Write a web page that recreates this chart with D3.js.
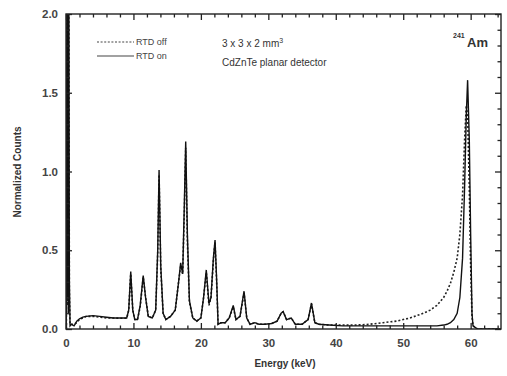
<!DOCTYPE html>
<html>
<head>
<meta charset="utf-8">
<script src="https://cdn.jsdelivr.net/npm/d3@7"></script>
<style>
  body { margin: 0; background: #fff; }
  svg text { font-family: "Liberation Sans", Arial, sans-serif; }
</style>
</head>
<body>
<script>
    var w = 507; //canvas width
    var h = 376; //canvas height

    // energies (keV) shared by both spectra
    var energy = [0.05, 0.12, 0.2, 0.27, 0.34, 0.42, 0.5, 0.6, 0.8, 1.2, 1.6, 2.0, 2.5, 3.0, 4.0, 5.0, 6.0, 7.0, 8.0, 9.0,
                  9.3, 9.6, 9.9, 10.2, 10.6, 11.0, 11.45, 11.8, 12.2, 12.8, 13.3, 13.6, 13.8, 14.05, 14.4, 14.8,
                  15.5, 16.2, 16.7, 17.0, 17.3, 17.55, 17.75, 18.0, 18.3, 18.8, 19.4, 20.0, 20.4, 20.8, 21.2,
                  21.5, 21.85, 22.1, 22.35, 22.55, 23.0, 23.6, 24.2, 24.8, 25.2, 25.8, 26.4, 26.8, 27.3, 28.0,
                  28.6, 29.5, 30.5, 31.3, 31.9, 32.2, 32.7, 33.4, 34.0, 35.0, 35.9, 36.4, 36.9, 37.5, 39.0,
                  41.0, 43.0, 45.0, 47.0, 49.0, 50.0, 51.0, 52.0, 53.0, 54.0, 55.0, 56.0, 56.5, 57.0, 57.5,
                  58.0, 58.4, 58.8, 59.1, 59.35, 59.55, 59.8, 60.0, 60.2, 60.35, 61.0, 64.5];

    // RTD on (solid)
    var rtdOn = [0.0, 2.0, 0.2, 2.0, 0.1, 2.0, 0.3, 0.02, 0.03, 0.02, 0.05, 0.065, 0.075, 0.08, 0.085, 0.08, 0.075, 0.07, 0.07, 0.07,
                 0.12, 0.365, 0.12, 0.06, 0.06, 0.15, 0.34, 0.2, 0.08, 0.07, 0.12, 0.5, 1.01, 0.4, 0.1, 0.06,
                 0.08, 0.12, 0.3, 0.42, 0.35, 0.8, 1.19, 0.6, 0.18, 0.07, 0.05, 0.07, 0.2, 0.375, 0.16,
                 0.2, 0.45, 0.565, 0.3, 0.03, 0.04, 0.04, 0.07, 0.15, 0.06, 0.08, 0.24, 0.07, 0.03, 0.04,
                 0.03, 0.03, 0.035, 0.05, 0.1, 0.11, 0.06, 0.07, 0.03, 0.03, 0.06, 0.165, 0.04, 0.03, 0.025,
                 0.02, 0.02, 0.02, 0.02, 0.02, 0.02, 0.02, 0.02, 0.02, 0.02, 0.02, 0.025, 0.03, 0.04, 0.06,
                 0.1, 0.2, 0.45, 0.9, 1.35, 1.58, 1.2, 0.6, 0.1, 0.02, 0.0, 0.0];

    // RTD off (dotted)
    var rtdOff = [0.0, 2.0, 0.15, 2.0, 0.2, 2.0, 0.25, 0.03, 0.03, 0.03, 0.04, 0.06, 0.07, 0.08, 0.08, 0.075, 0.07, 0.07, 0.068, 0.068,
                  0.12, 0.35, 0.12, 0.06, 0.06, 0.14, 0.33, 0.2, 0.08, 0.07, 0.12, 0.48, 0.98, 0.38, 0.1, 0.06,
                  0.08, 0.12, 0.3, 0.40, 0.35, 0.75, 1.15, 0.55, 0.17, 0.07, 0.05, 0.07, 0.2, 0.36, 0.15,
                  0.2, 0.43, 0.55, 0.28, 0.03, 0.04, 0.04, 0.07, 0.14, 0.06, 0.08, 0.23, 0.07, 0.03, 0.04,
                  0.03, 0.03, 0.035, 0.05, 0.1, 0.11, 0.06, 0.07, 0.03, 0.03, 0.06, 0.16, 0.04, 0.03, 0.025,
                  0.025, 0.025, 0.03, 0.04, 0.05, 0.06, 0.07, 0.085, 0.1, 0.12, 0.15, 0.2, 0.24, 0.29, 0.36,
                  0.45, 0.6, 0.85, 1.2, 1.42, 1.35, 0.9, 0.4, 0.08, 0.02, 0.0, 0.0];

    var xMajor = [0, 10, 20, 30, 40, 50, 60]; //x tick labels
    var yMajor = [0.0, 0.5, 1.0, 1.5, 2.0];  //y tick labels

    var padLeft = 66, padRight = 501, padTop = 14, padBottom = 329; //plot frame edges

    var xScale = d3.scaleLinear().domain([0, 64.5]).range([padLeft, padRight]);
    var yScale = d3.scaleLinear().domain([0, 2]).range([padBottom, padTop]);

    var svg = d3.select("body").append("svg")
        .attr("width", w)
        .attr("height", h);

    // clip the spectra to the frame
    svg.append("clipPath").attr("id", "plotclip")
        .append("rect")
        .attr("x", padLeft).attr("y", padTop)
        .attr("width", padRight - padLeft).attr("height", padBottom - padTop);

    var spectrumLine = d3.line()
        .x(function(d) { return xScale(d[0]); })
        .y(function(d) { return yScale(d[1]); });

    var offData = energy.map(function(e, i) { return [e, rtdOff[i]]; });
    var onData = energy.map(function(e, i) { return [e, rtdOn[i]]; });

    var plot = svg.append("g").attr("clip-path", "url(#plotclip)");

    plot.append("path")
        .datum(offData)
        .attr("fill", "none")
        .attr("stroke", "#222")
        .attr("stroke-width", 1.6)
        .attr("stroke-dasharray", "2,2")
        .attr("d", spectrumLine);

    plot.append("path")
        .datum(onData)
        .attr("fill", "none")
        .attr("stroke", "#111")
        .attr("stroke-width", 1.4)
        .attr("d", spectrumLine);

    // all tick positions (major + minor)
    var xTicks = d3.range(0, 65, 2);
    var yTicks = d3.range(0, 21).map(function(i) { return i / 10; });
    function isMajorX(d) { return d % 10 === 0; }
    function isMajorY(d) { return Math.abs(d * 2 - Math.round(d * 2)) < 1e-6; }

    // draw one side of the frame; sign flips tick direction into the plot
    function drawAxis(axis, translate, attrName, sign, isMajor) {
        var g = svg.append("g")
            .attr("transform", translate)
            .call(axis);
        g.select(".domain").remove();
        g.selectAll(".tick line")
            .attr("stroke", "#222")
            .attr("stroke-width", 1.3)
            .attr(attrName, function(d) { return sign * (isMajor(d) ? 6 : 3.5); });
        g.selectAll(".tick text")
            .attr("fill", "#444")
            .style("font-size", "11.5px")
            .style("font-weight", "bold");
    }

    drawAxis(d3.axisBottom(xScale).tickValues(xTicks).tickSize(-6).tickPadding(10)
                .tickFormat(function(d) { return isMajorX(d) ? d : ""; }),
             "translate(0," + padBottom + ")", "y2", -1, isMajorX);
    drawAxis(d3.axisTop(xScale).tickValues(xTicks).tickSize(-6).tickFormat(""),
             "translate(0," + padTop + ")", "y2", 1, isMajorX);
    drawAxis(d3.axisLeft(yScale).tickValues(yTicks).tickSize(-6).tickPadding(8)
                .tickFormat(function(d) { return isMajorY(d) ? d3.format(".1f")(d) : ""; }),
             "translate(" + padLeft + ",0)", "x2", 1, isMajorY);
    drawAxis(d3.axisRight(yScale).tickValues(yTicks).tickSize(-6).tickFormat(""),
             "translate(" + padRight + ",0)", "x2", -1, isMajorY);

    // frame
    svg.append("rect")
        .attr("x", padLeft).attr("y", padTop)
        .attr("width", padRight - padLeft).attr("height", padBottom - padTop)
        .attr("fill", "none")
        .attr("stroke", "#222")
        .attr("stroke-width", 1.4);

    // axis labels
    svg.append("text")
        .attr("text-anchor", "middle")
        .attr("x", 285)
        .attr("y", 367)
        .attr("fill", "#333")
        .style("font-size", "10px")
        .style("font-weight", "bold")
        .text("Energy  (keV)");

    svg.append("text")
        .attr("text-anchor", "middle")
        .attr("transform", "translate(21,172) rotate(-90)")
        .attr("fill", "#333")
        .style("font-size", "10px")
        .style("font-weight", "bold")
        .text("Normalized  Counts");

    // legend
    var legendNames = ["RTD off", "RTD on"];
    var legendDash = ["2,1.6", null];
    legendNames.forEach(function(name, i) {
        var y = 42 + i * 14;
        svg.append("line")
            .attr("x1", 97).attr("x2", 134)
            .attr("y1", y).attr("y2", y)
            .attr("stroke", "#444")
            .attr("stroke-width", 1.2)
            .attr("stroke-dasharray", legendDash[i]);
        svg.append("text")
            .attr("x", 136).attr("y", y + 3)
            .attr("fill", "#444")
            .style("font-size", "9px")
            .text(name);
    });

    // annotations
    var t1 = svg.append("text")
        .attr("x", 222).attr("y", 47)
        .attr("fill", "#333")
        .style("font-size", "10px")
        .text("3 x 3 x 2 mm");
    t1.append("tspan").attr("dy", -4).style("font-size", "7px").text("3");

    svg.append("text")
        .attr("x", 222).attr("y", 66)
        .attr("fill", "#333")
        .style("font-size", "10px")
        .text("CdZnTe planar detector");

    svg.append("text")
        .attr("x", 453).attr("y", 38)
        .attr("fill", "#333")
        .style("font-size", "7px")
        .style("font-weight", "bold")
        .text("241");
    svg.append("text")
        .attr("x", 467).attr("y", 47)
        .attr("fill", "#333")
        .style("font-size", "13px")
        .style("font-weight", "bold")
        .text("Am");
</script>
</body>
</html>
